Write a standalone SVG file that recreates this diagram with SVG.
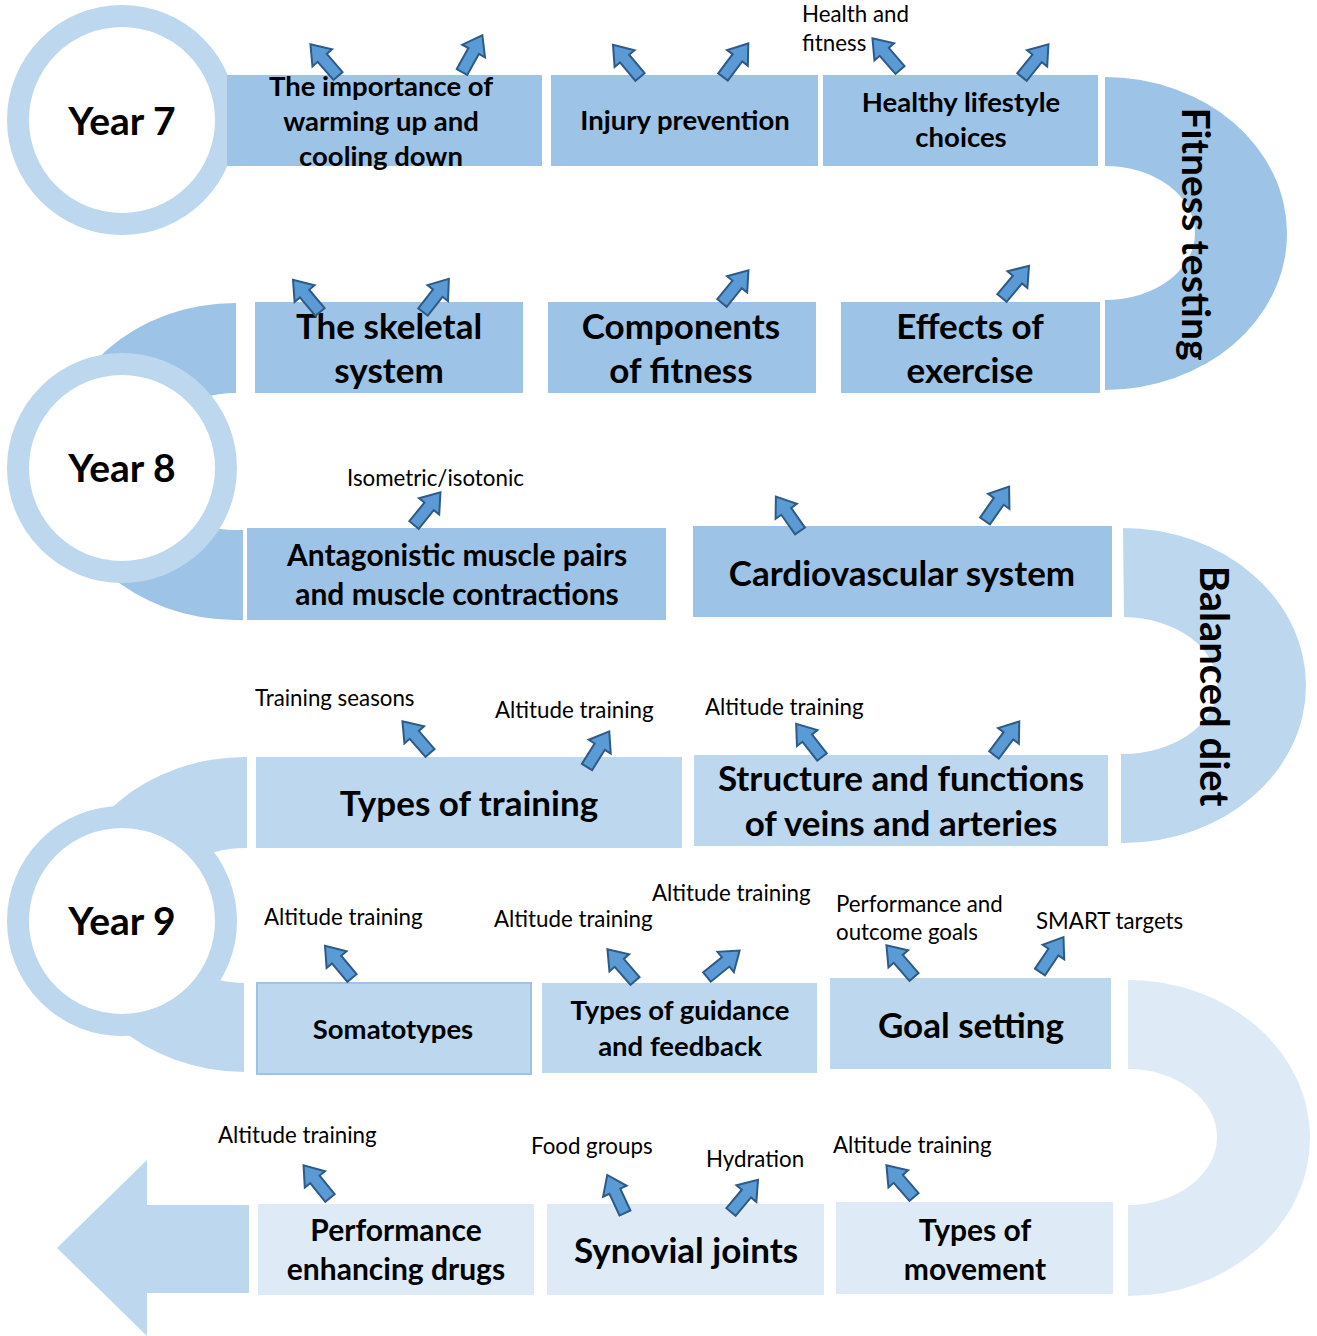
<svg xmlns="http://www.w3.org/2000/svg" width="1317" height="1336" viewBox="0 0 1317 1336">
<defs>
<style>
.c1{fill:#9DC3E6}
.c2{fill:#BDD7EE}
.c3{fill:#DEEBF7}
.ring{fill:#fff;stroke:#BDD7EE;stroke-width:22}
.t{font-family:Lato,"Liberation Sans",sans-serif;font-weight:bold;fill:#000;text-anchor:middle}
.yr{font-family:Lato,"Liberation Sans",sans-serif;font-weight:bold;fill:#000;text-anchor:middle;font-size:39px}
.l{font-family:Lato,"Liberation Sans",sans-serif;fill:#000;font-size:22.3px}
.ar{fill:#5B9BD5;stroke:#2E5A87;stroke-width:2;stroke-linejoin:miter}
</style>
<path id="ba" d="M-6,0 L-6,-24 L-13,-24 L0,-42 L13,-24 L6,-24 L6,0 Z"/>
</defs>

<g id="track">
<path class="c1" d="M1105,77 A182,156.5 0 0 1 1105,390 L1105,300 A90,67 0 0 0 1105,166 Z"/>
<path class="c1" d="M236,303 A182,158.5 0 0 0 236,620 L243,620 L243,530 L236,530 A90,68.5 0 0 1 236,393 Z"/>
<path class="c2" d="M1123,528 A183,157.5 0 0 1 1123,843 L1121,843 L1121,754 A95,68.5 0 0 0 1124,617 Z"/>
<path class="c2" d="M247,757 A182,157.5 0 0 0 244,1072 L244,983 A90,67.5 0 0 1 247,848 Z"/>
<path class="c3" d="M1128,980 A182,158 0 0 1 1128,1296 L1128,1205 A89,68 0 0 0 1128,1069 Z"/>
<path class="c2" d="M249,1205 L147,1205 L147,1160 L57,1248 L147,1336 L147,1293 L249,1293 Z"/>
</g>

<g id="year7"><circle class="ring" cx="122" cy="120" r="104"/><text class="yr" x="122" y="135">Year 7</text></g>
<g id="year8"><circle class="ring" cx="122" cy="468" r="104"/><text class="yr" x="122" y="482">Year 8</text></g>
<g id="year9"><circle class="ring" cx="122" cy="921" r="104"/><text class="yr" x="122" y="935">Year 9</text></g>

<g id="n-warmup"><rect class="c1" x="227" y="75" width="315" height="91"/>
<text class="t" font-size="27.5"><tspan x="381" y="96">The importance of</tspan><tspan x="381" y="131">warming up and</tspan><tspan x="381" y="166">cooling down</tspan></text></g>
<g id="n-injury"><rect class="c1" x="551" y="75" width="267" height="91"/><text class="t" font-size="27.5" x="685" y="130">Injury prevention</text></g>
<g id="n-healthy"><rect class="c1" x="823" y="75" width="275" height="91"/>
<text class="t" font-size="27.5"><tspan x="961" y="112">Healthy lifestyle</tspan><tspan x="961" y="147">choices</tspan></text></g>
<g id="n-fitness-testing"><text class="t" font-size="39" transform="translate(1182,234) rotate(90)">Fitness testing</text></g>

<g id="n-skeletal"><rect class="c1" x="255" y="302" width="268" height="91"/>
<text class="t" font-size="35"><tspan x="389" y="339">The skeletal</tspan><tspan x="389" y="383">system</tspan></text></g>
<g id="n-components"><rect class="c1" x="548" y="302" width="268" height="91"/>
<text class="t" font-size="35"><tspan x="681" y="339">Components</tspan><tspan x="681" y="383">of fitness</tspan></text></g>
<g id="n-effects"><rect class="c1" x="841" y="302" width="259" height="91"/>
<text class="t" font-size="35"><tspan x="970" y="339">Effects of</tspan><tspan x="970" y="383">exercise</tspan></text></g>

<g id="n-antagonistic"><rect class="c1" x="247" y="528" width="419" height="92"/>
<text class="t" font-size="30"><tspan x="457" y="566">Antagonistic muscle pairs</tspan><tspan x="457" y="605">and muscle contractions</tspan></text></g>
<g id="n-cardio"><rect class="c1" x="693" y="526" width="419" height="91"/><text class="t" font-size="35" x="902" y="586">Cardiovascular system</text></g>
<g id="n-balanced"><text class="t" font-size="40" transform="translate(1200,686) rotate(90)">Balanced diet</text></g>

<g id="n-training"><rect class="c2" x="256" y="757" width="426" height="91"/><text class="t" font-size="35" x="469" y="816">Types of training</text></g>
<g id="n-veins"><rect class="c2" x="694" y="755" width="414" height="91"/>
<text class="t" font-size="35"><tspan x="901" y="791">Structure and functions</tspan><tspan x="901" y="836">of veins and arteries</tspan></text></g>

<g id="n-somatotypes"><rect class="c2" x="257" y="983" width="274" height="91" stroke="#9DC3E6" stroke-width="2"/><text class="t" font-size="27.5" x="393" y="1039">Somatotypes</text></g>
<g id="n-guidance"><rect class="c2" x="542" y="983" width="275" height="90"/>
<text class="t" font-size="27.5"><tspan x="680" y="1020">Types of guidance</tspan><tspan x="680" y="1056">and feedback</tspan></text></g>
<g id="n-goal"><rect class="c2" x="830" y="978" width="281" height="91"/><text class="t" font-size="35" x="971" y="1038">Goal setting</text></g>

<g id="n-ped"><rect class="c3" x="258" y="1204" width="276" height="91"/>
<text class="t" font-size="30"><tspan x="396" y="1241">Performance</tspan><tspan x="396" y="1280">enhancing drugs</tspan></text></g>
<g id="n-synovial"><rect class="c3" x="547" y="1204" width="277" height="91"/><text class="t" font-size="35" x="686" y="1263">Synovial joints</text></g>
<g id="n-movement"><rect class="c3" x="836" y="1202" width="277" height="92"/>
<text class="t" font-size="30"><tspan x="975" y="1241">Types of</tspan><tspan x="975" y="1280">movement</tspan></text></g>

<g id="labels">
<text class="l"><tspan x="802" y="22">Health and</tspan><tspan x="802" y="51">fitness</tspan></text>
<text class="l" x="347" y="486">Isometric/isotonic</text>
<text class="l" x="255" y="706">Training seasons</text>
<text class="l" x="495" y="718">Altitude training</text>
<text class="l" x="705" y="715">Altitude training</text>
<text class="l" x="264" y="925">Altitude training</text>
<text class="l" x="494" y="927">Altitude training</text>
<text class="l" x="652" y="901">Altitude training</text>
<text class="l"><tspan x="836" y="912">Performance and</tspan><tspan x="836" y="940">outcome goals</tspan></text>
<text class="l" x="1036" y="929">SMART targets</text>
<text class="l" x="218" y="1143">Altitude training</text>
<text class="l" x="531" y="1154">Food groups</text>
<text class="l" x="706" y="1167">Hydration</text>
<text class="l" x="833" y="1153">Altitude training</text>
</g>

<g id="connectors" class="ar">
<use href="#ba" transform="translate(338,76) rotate(-41)"/>
<use href="#ba" transform="translate(462,72) rotate(29)"/>
<use href="#ba" transform="translate(640,77) rotate(-40)"/>
<use href="#ba" transform="translate(723,77) rotate(37)"/>
<use href="#ba" transform="translate(900,70) rotate(-41)"/>
<use href="#ba" transform="translate(1022,77) rotate(39)"/>
<use href="#ba" transform="translate(320,312) rotate(-40)"/>
<use href="#ba" transform="translate(423,312) rotate(38)"/>
<use href="#ba" transform="translate(722,303) rotate(39)"/>
<use href="#ba" transform="translate(1002,298) rotate(40)"/>
<use href="#ba" transform="translate(414,525) rotate(39)"/>
<use href="#ba" transform="translate(800,531) rotate(-35)"/>
<use href="#ba" transform="translate(985,521) rotate(35)"/>
<use href="#ba" transform="translate(430,753) rotate(-41)"/>
<use href="#ba" transform="translate(587,767) rotate(32)"/>
<use href="#ba" transform="translate(822,757) rotate(-38)"/>
<use href="#ba" transform="translate(994,755) rotate(37)"/>
<use href="#ba" transform="translate(352,978) rotate(-40)"/>
<use href="#ba" transform="translate(635,981) rotate(-41)"/>
<use href="#ba" transform="translate(707,977) rotate(51)"/>
<use href="#ba" transform="translate(914,977) rotate(-41)"/>
<use href="#ba" transform="translate(1040,972) rotate(34)"/>
<use href="#ba" transform="translate(330,1198) rotate(-39)"/>
<use href="#ba" transform="translate(625,1213) rotate(-25)"/>
<use href="#ba" transform="translate(731,1212) rotate(40)"/>
<use href="#ba" transform="translate(914,1197) rotate(-41)"/>
</g>
</svg>
